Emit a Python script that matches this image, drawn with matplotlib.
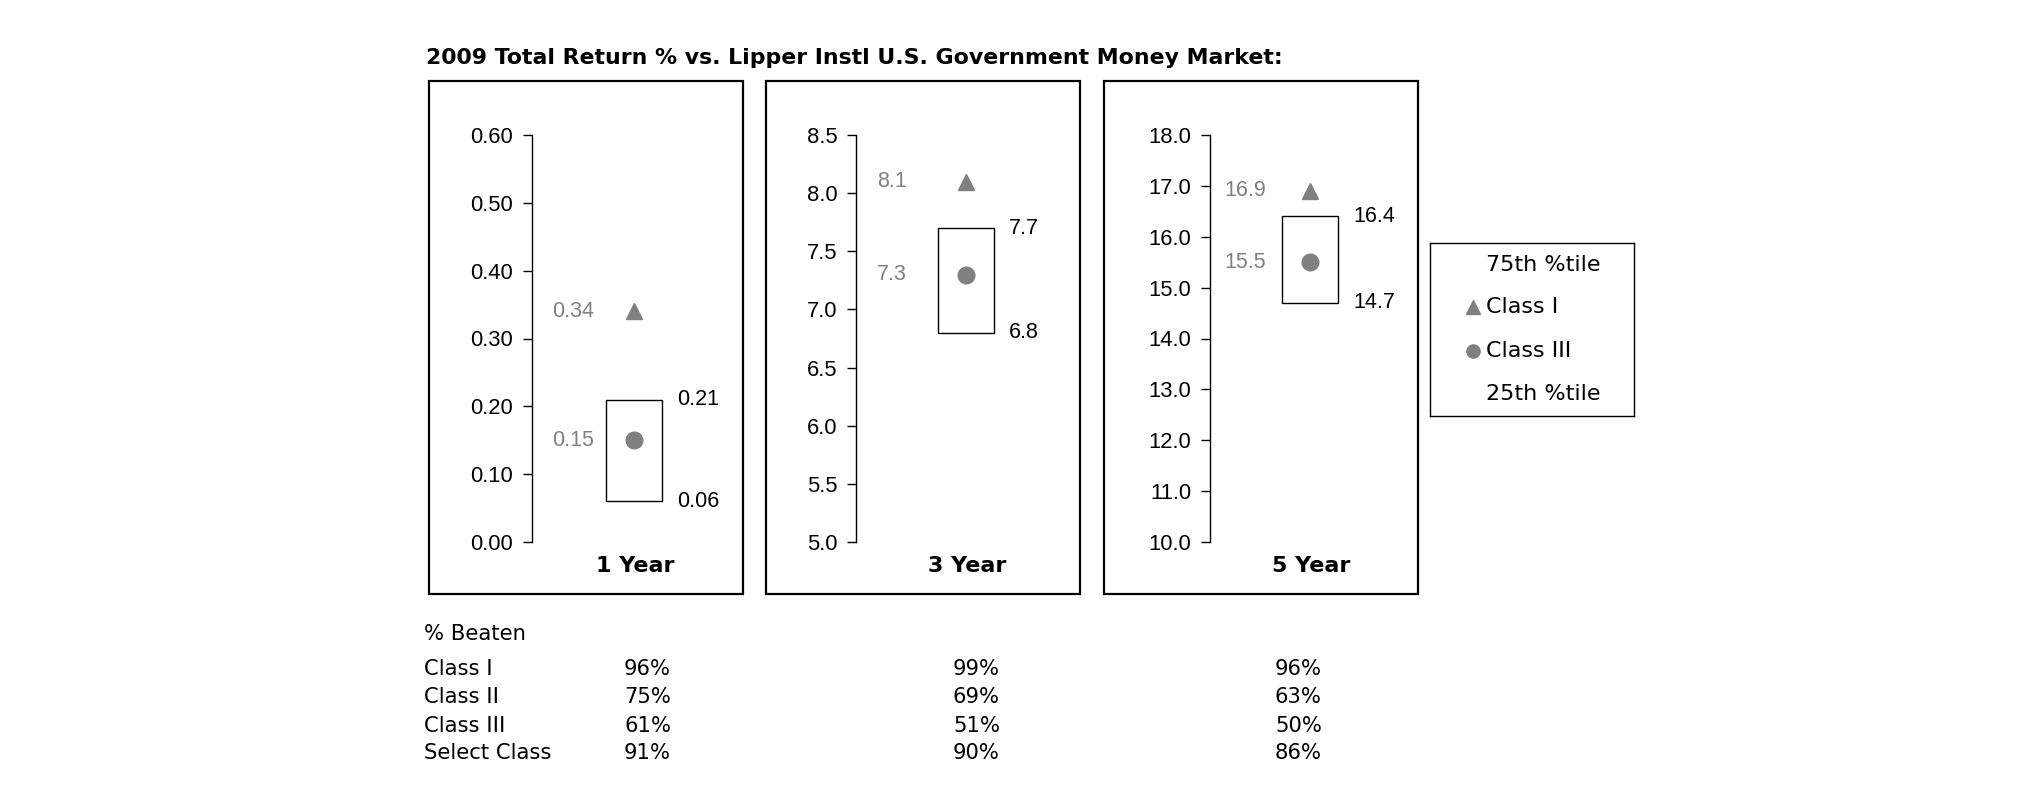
#!/usr/bin/python
# -*- coding: utf-8 -*-

# plot.py - 2009 total return vs. Lipper peer group, three panels + % beaten table

import matplotlib
matplotlib.use('Agg')
import matplotlib.pyplot as plt
import matplotlib.transforms as mtransforms
from matplotlib.patches import Rectangle
from matplotlib.ticker import FormatStrFormatter
import numpy as np

# data
periods = ['1 Year', '3 Year', '5 Year']
class_i = [0.34, 8.1, 16.9]
class_iii = [0.15, 7.3, 15.5]
pct_75 = [0.21, 7.7, 16.4]
pct_25 = [0.06, 6.8, 14.7]
y_min = [0.0, 5.0, 10.0]
y_max = [0.60, 8.5, 18.0]
y_step = [0.10, 0.5, 1.0]
y_fmt = ['%.2f', '%.1f', '%.1f']

beaten_rows = ['Class I', 'Class II', 'Class III', 'Select Class']
beaten_1y = [96, 75, 61, 91]
beaten_3y = [99, 69, 51, 90]
beaten_5y = [96, 63, 50, 86]

W, H = 2025, 806
GRAY = '#808080'


def fx(px):
    return px / W


def fy(py):
    return 1 - py / H


plt.rcParams['font.family'] = ['Liberation Sans', 'DejaVu Sans']

fig = plt.figure(figsize=(W / 100, H / 100), dpi=100)
fig.patch.set_facecolor('white')

# title
fig.text(fx(426), fy(58), '2009 Total Return % vs. Lipper Instl U.S. Government Money Market:',
         family='DejaVu Sans', fontweight='bold', fontsize=15.8, va='center', ha='left')

# panel layout (pixels): frame left/right, axis x, box centre, gray label offset
frames = [(429, 743), (766, 1080), (1104, 1418)]
axis_x = [532, 856, 1210]
centres = [102, 110, 100]
gray_off = [40, 59, 44]
y_top, y_bot = 135, 542

for i in range(3):
    x0, x1 = frames[i]
    fig.patches.append(Rectangle((fx(x0), fy(594)), fx(x1) - fx(x0), fy(81) - fy(594),
                                 transform=fig.transFigure, fill=False, lw=1.6, ec='black'))

    ax = fig.add_axes([fx(axis_x[i]), fy(y_bot), 200 / W, (y_bot - y_top) / H])
    ax.set_xlim(0, 200)
    ax.set_ylim(y_min[i], y_max[i])
    n = int(round((y_max[i] - y_min[i]) / y_step[i])) + 1
    ax.set_yticks(np.linspace(y_min[i], y_max[i], n))
    ax.yaxis.set_major_formatter(FormatStrFormatter(y_fmt[i]))
    ax.set_xticks([])
    for s in ['top', 'right', 'bottom']:
        ax.spines[s].set_visible(False)
    ax.spines['left'].set_linewidth(1.0)
    ax.tick_params(axis='y', length=6.5, width=1.0, pad=7, labelsize=15.8)
    ax.patch.set_alpha(0)

    c = centres[i]
    ax.add_patch(Rectangle((c - 28, pct_25[i]), 56, pct_75[i] - pct_25[i],
                           fill=False, lw=1.0, ec='black'))
    ax.plot([c], [class_i[i]], marker='^', ms=12, color=GRAY, ls='none')
    ax.plot([c], [class_iii[i]], marker='o', ms=12, color=GRAY, ls='none')

    fmt = y_fmt[i]
    ax.text(c - gray_off[i], class_i[i], fmt % class_i[i], color=GRAY, fontsize=15.5,
            ha='right', va='center')
    ax.text(c - gray_off[i], class_iii[i], fmt % class_iii[i], color=GRAY, fontsize=15.5,
            ha='right', va='center')
    ax.text(c + 43, pct_75[i], fmt % pct_75[i], color='black', fontsize=15.5,
            ha='left', va='center')
    ax.text(c + 43, pct_25[i], fmt % pct_25[i], color='black', fontsize=15.5,
            ha='left', va='center')

    trans = mtransforms.blended_transform_factory(ax.transData, fig.transFigure)
    ax.text(c + 1, fy(566), periods[i], transform=trans, family='DejaVu Sans',
            fontweight='bold', fontsize=16, ha='center', va='center')

# legend box
lax = fig.add_axes([fx(1430), fy(416), 204 / W, 173 / H])
lax.set_xlim(0, 1)
lax.set_ylim(0, 1)
lax.set_xticks([])
lax.set_yticks([])
for s in lax.spines.values():
    s.set_linewidth(1.0)
leg_labels = ['75th %tile', 'Class I', 'Class III', '25th %tile']
leg_markers = [None, '^', 'o', None]
leg_y = [0.873, 0.63, 0.376, 0.127]
for lab, mk, yy in zip(leg_labels, leg_markers, leg_y):
    if mk is not None:
        lax.plot([0.21], [yy], marker=mk, ms=9.5, color=GRAY, ls='none')
    lax.text(0.275, yy, lab, family='DejaVu Sans', fontsize=16, ha='left', va='center')

# % beaten table
fig.text(fx(424), fy(634), '% Beaten', family='DejaVu Sans', fontsize=15.2, va='center')
row_y = [669, 697, 726, 753]
col_x = [624, 953, 1275]
cols = [beaten_1y, beaten_3y, beaten_5y]
for r, name in enumerate(beaten_rows):
    fig.text(fx(424), fy(row_y[r]), name, family='DejaVu Sans', fontsize=15.2, va='center')
    for cx, vals in zip(col_x, cols):
        fig.text(fx(cx), fy(row_y[r]), '%d%%' % vals[r], family='DejaVu Sans',
                 fontsize=15.2, va='center')

fig.savefig('out.png', dpi=100, facecolor='white')
